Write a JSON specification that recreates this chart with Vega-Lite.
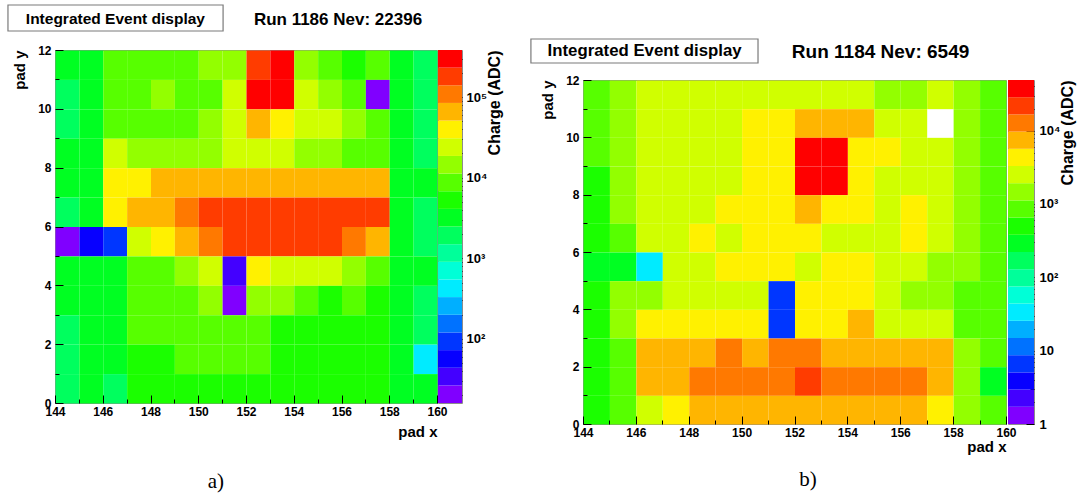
{
"$schema": "https://vega.github.io/schema/vega-lite/v6.json",
"background": "white",
"padding": {"left": 7, "top": 0, "right": 0, "bottom": 0},
"autosize": {"type": "pad"},
"config": {
 "font": "Liberation Sans",
 "view": {"stroke": "#8c8c8c", "strokeWidth": 1},
 "axis": {"labelFont": "Liberation Sans", "labelFontWeight": "bold", "labelFontSize": 12, "labelColor": "#000", "titleFont": "Liberation Sans", "titleFontWeight": "bold", "titleFontSize": 15, "titleColor": "#000", "domain": false, "grid": false, "tickColor": "#000", "tickWidth": 1, "labelOverlap": false, "labelFlush": false}
},
"datasets": {
 "padA": [
{"x":144,"y":11,"q":3189},{"x":145,"y":11,"q":3189},{"x":146,"y":11,"q":8746},{"x":147,"y":11,"q":8746},{"x":148,"y":11,"q":8746},{"x":149,"y":11,"q":8746},{"x":150,"y":11,"q":14484},{"x":151,"y":11,"q":14484},{"x":152,"y":11,"q":180464},{"x":153,"y":11,"q":298876},{"x":154,"y":11,"q":14484},{"x":155,"y":11,"q":8746},{"x":156,"y":11,"q":5281},{"x":157,"y":11,"q":8746},{"x":158,"y":11,"q":3189},{"x":159,"y":11,"q":1926},
{"x":144,"y":10,"q":1926},{"x":145,"y":10,"q":3189},{"x":146,"y":10,"q":8746},{"x":147,"y":10,"q":8746},{"x":148,"y":10,"q":14484},{"x":149,"y":10,"q":8746},{"x":150,"y":10,"q":8746},{"x":151,"y":10,"q":23988},{"x":152,"y":10,"q":298876},{"x":153,"y":10,"q":298876},{"x":154,"y":10,"q":23988},{"x":155,"y":10,"q":14484},{"x":156,"y":10,"q":8746},{"x":157,"y":10,"q":20},{"x":158,"y":10,"q":3189},{"x":159,"y":10,"q":1926},
{"x":144,"y":9,"q":1926},{"x":145,"y":9,"q":3189},{"x":146,"y":9,"q":8746},{"x":147,"y":9,"q":8746},{"x":148,"y":9,"q":8746},{"x":149,"y":9,"q":8746},{"x":150,"y":9,"q":14484},{"x":151,"y":9,"q":23988},{"x":152,"y":9,"q":65795},{"x":153,"y":9,"q":39728},{"x":154,"y":9,"q":23988},{"x":155,"y":9,"q":23988},{"x":156,"y":9,"q":14484},{"x":157,"y":9,"q":8746},{"x":158,"y":9,"q":3189},{"x":159,"y":9,"q":1926},
{"x":144,"y":8,"q":3189},{"x":145,"y":8,"q":3189},{"x":146,"y":8,"q":23988},{"x":147,"y":8,"q":14484},{"x":148,"y":8,"q":14484},{"x":149,"y":8,"q":14484},{"x":150,"y":8,"q":14484},{"x":151,"y":8,"q":23988},{"x":152,"y":8,"q":23988},{"x":153,"y":8,"q":23988},{"x":154,"y":8,"q":14484},{"x":155,"y":8,"q":14484},{"x":156,"y":8,"q":8746},{"x":157,"y":8,"q":8746},{"x":158,"y":8,"q":3189},{"x":159,"y":8,"q":1926},
{"x":144,"y":7,"q":3189},{"x":145,"y":7,"q":3189},{"x":146,"y":7,"q":39728},{"x":147,"y":7,"q":39728},{"x":148,"y":7,"q":65795},{"x":149,"y":7,"q":65795},{"x":150,"y":7,"q":65795},{"x":151,"y":7,"q":65795},{"x":152,"y":7,"q":65795},{"x":153,"y":7,"q":65795},{"x":154,"y":7,"q":65795},{"x":155,"y":7,"q":65795},{"x":156,"y":7,"q":65795},{"x":157,"y":7,"q":65795},{"x":158,"y":7,"q":3189},{"x":159,"y":7,"q":3189},
{"x":144,"y":6,"q":1926},{"x":145,"y":6,"q":3189},{"x":146,"y":6,"q":39728},{"x":147,"y":6,"q":65795},{"x":148,"y":6,"q":65795},{"x":149,"y":6,"q":108966},{"x":150,"y":6,"q":180464},{"x":151,"y":6,"q":180464},{"x":152,"y":6,"q":180464},{"x":153,"y":6,"q":180464},{"x":154,"y":6,"q":180464},{"x":155,"y":6,"q":180464},{"x":156,"y":6,"q":180464},{"x":157,"y":6,"q":180464},{"x":158,"y":6,"q":3189},{"x":159,"y":6,"q":1926},
{"x":144,"y":5,"q":20},{"x":145,"y":5,"q":56},{"x":146,"y":5,"q":93},{"x":147,"y":5,"q":23988},{"x":148,"y":5,"q":39728},{"x":149,"y":5,"q":65795},{"x":150,"y":5,"q":108966},{"x":151,"y":5,"q":180464},{"x":152,"y":5,"q":180464},{"x":153,"y":5,"q":180464},{"x":154,"y":5,"q":180464},{"x":155,"y":5,"q":180464},{"x":156,"y":5,"q":108966},{"x":157,"y":5,"q":65795},{"x":158,"y":5,"q":3189},{"x":159,"y":5,"q":1926},
{"x":144,"y":4,"q":3189},{"x":145,"y":4,"q":3189},{"x":146,"y":4,"q":3189},{"x":147,"y":4,"q":8746},{"x":148,"y":4,"q":8746},{"x":149,"y":4,"q":14484},{"x":150,"y":4,"q":23988},{"x":151,"y":4,"q":34},{"x":152,"y":4,"q":39728},{"x":153,"y":4,"q":23988},{"x":154,"y":4,"q":23988},{"x":155,"y":4,"q":23988},{"x":156,"y":4,"q":14484},{"x":157,"y":4,"q":8746},{"x":158,"y":4,"q":3189},{"x":159,"y":4,"q":3189},
{"x":144,"y":3,"q":3189},{"x":145,"y":3,"q":3189},{"x":146,"y":3,"q":3189},{"x":147,"y":3,"q":8746},{"x":148,"y":3,"q":8746},{"x":149,"y":3,"q":8746},{"x":150,"y":3,"q":14484},{"x":151,"y":3,"q":20},{"x":152,"y":3,"q":14484},{"x":153,"y":3,"q":14484},{"x":154,"y":3,"q":8746},{"x":155,"y":3,"q":5281},{"x":156,"y":3,"q":8746},{"x":157,"y":3,"q":5281},{"x":158,"y":3,"q":3189},{"x":159,"y":3,"q":1926},
{"x":144,"y":2,"q":1926},{"x":145,"y":2,"q":3189},{"x":146,"y":2,"q":3189},{"x":147,"y":2,"q":8746},{"x":148,"y":2,"q":8746},{"x":149,"y":2,"q":8746},{"x":150,"y":2,"q":8746},{"x":151,"y":2,"q":8746},{"x":152,"y":2,"q":8746},{"x":153,"y":2,"q":5281},{"x":154,"y":2,"q":5281},{"x":155,"y":2,"q":5281},{"x":156,"y":2,"q":5281},{"x":157,"y":2,"q":5281},{"x":158,"y":2,"q":3189},{"x":159,"y":2,"q":1926},
{"x":144,"y":1,"q":1926},{"x":145,"y":1,"q":3189},{"x":146,"y":1,"q":3189},{"x":147,"y":1,"q":5281},{"x":148,"y":1,"q":5281},{"x":149,"y":1,"q":8746},{"x":150,"y":1,"q":8746},{"x":151,"y":1,"q":8746},{"x":152,"y":1,"q":8746},{"x":153,"y":1,"q":5281},{"x":154,"y":1,"q":5281},{"x":155,"y":1,"q":5281},{"x":156,"y":1,"q":5281},{"x":157,"y":1,"q":5281},{"x":158,"y":1,"q":3189},{"x":159,"y":1,"q":424},
{"x":144,"y":0,"q":1926},{"x":145,"y":0,"q":3189},{"x":146,"y":0,"q":1926},{"x":147,"y":0,"q":5281},{"x":148,"y":0,"q":5281},{"x":149,"y":0,"q":5281},{"x":150,"y":0,"q":5281},{"x":151,"y":0,"q":5281},{"x":152,"y":0,"q":5281},{"x":153,"y":0,"q":5281},{"x":154,"y":0,"q":5281},{"x":155,"y":0,"q":5281},{"x":156,"y":0,"q":5281},{"x":157,"y":0,"q":5281},{"x":158,"y":0,"q":3189},{"x":159,"y":0,"q":3189}
 ],
 "padB": [
{"x":144,"y":11,"q":854},{"x":145,"y":11,"q":1465},{"x":146,"y":11,"q":2514},{"x":147,"y":11,"q":2514},{"x":148,"y":11,"q":2514},{"x":149,"y":11,"q":2514},{"x":150,"y":11,"q":2514},{"x":151,"y":11,"q":2514},{"x":152,"y":11,"q":2514},{"x":153,"y":11,"q":2514},{"x":154,"y":11,"q":2514},{"x":155,"y":11,"q":1465},{"x":156,"y":11,"q":1465},{"x":157,"y":11,"q":2514},{"x":158,"y":11,"q":1465},{"x":159,"y":11,"q":854},
{"x":144,"y":10,"q":854},{"x":145,"y":10,"q":1465},{"x":146,"y":10,"q":2514},{"x":147,"y":10,"q":2514},{"x":148,"y":10,"q":2514},{"x":149,"y":10,"q":2514},{"x":150,"y":10,"q":4313},{"x":151,"y":10,"q":4313},{"x":152,"y":10,"q":7401},{"x":153,"y":10,"q":7401},{"x":154,"y":10,"q":7401},{"x":155,"y":10,"q":2514},{"x":156,"y":10,"q":2514},{"x":158,"y":10,"q":1465},{"x":159,"y":10,"q":854},
{"x":144,"y":9,"q":854},{"x":145,"y":9,"q":1465},{"x":146,"y":9,"q":2514},{"x":147,"y":9,"q":2514},{"x":148,"y":9,"q":2514},{"x":149,"y":9,"q":2514},{"x":150,"y":9,"q":4313},{"x":151,"y":9,"q":4313},{"x":152,"y":9,"q":37389},{"x":153,"y":9,"q":37389},{"x":154,"y":9,"q":4313},{"x":155,"y":9,"q":4313},{"x":156,"y":9,"q":2514},{"x":157,"y":9,"q":2514},{"x":158,"y":9,"q":1465},{"x":159,"y":9,"q":854},
{"x":144,"y":8,"q":498},{"x":145,"y":8,"q":1465},{"x":146,"y":8,"q":2514},{"x":147,"y":8,"q":2514},{"x":148,"y":8,"q":2514},{"x":149,"y":8,"q":2514},{"x":150,"y":8,"q":4313},{"x":151,"y":8,"q":4313},{"x":152,"y":8,"q":37389},{"x":153,"y":8,"q":37389},{"x":154,"y":8,"q":4313},{"x":155,"y":8,"q":2514},{"x":156,"y":8,"q":2514},{"x":157,"y":8,"q":2514},{"x":158,"y":8,"q":1465},{"x":159,"y":8,"q":854},
{"x":144,"y":7,"q":498},{"x":145,"y":7,"q":1465},{"x":146,"y":7,"q":2514},{"x":147,"y":7,"q":2514},{"x":148,"y":7,"q":2514},{"x":149,"y":7,"q":4313},{"x":150,"y":7,"q":4313},{"x":151,"y":7,"q":4313},{"x":152,"y":7,"q":7401},{"x":153,"y":7,"q":4313},{"x":154,"y":7,"q":4313},{"x":155,"y":7,"q":2514},{"x":156,"y":7,"q":4313},{"x":157,"y":7,"q":2514},{"x":158,"y":7,"q":1465},{"x":159,"y":7,"q":854},
{"x":144,"y":6,"q":498},{"x":145,"y":6,"q":854},{"x":146,"y":6,"q":2514},{"x":147,"y":6,"q":2514},{"x":148,"y":6,"q":4313},{"x":149,"y":6,"q":2514},{"x":150,"y":6,"q":4313},{"x":151,"y":6,"q":4313},{"x":152,"y":6,"q":4313},{"x":153,"y":6,"q":2514},{"x":154,"y":6,"q":2514},{"x":155,"y":6,"q":2514},{"x":156,"y":6,"q":4313},{"x":157,"y":6,"q":2514},{"x":158,"y":6,"q":1465},{"x":159,"y":6,"q":854},
{"x":144,"y":5,"q":290},{"x":145,"y":5,"q":290},{"x":146,"y":5,"q":33.4},{"x":147,"y":5,"q":2514},{"x":148,"y":5,"q":2514},{"x":149,"y":5,"q":4313},{"x":150,"y":5,"q":4313},{"x":151,"y":5,"q":4313},{"x":152,"y":5,"q":2514},{"x":153,"y":5,"q":4313},{"x":154,"y":5,"q":4313},{"x":155,"y":5,"q":2514},{"x":156,"y":5,"q":2514},{"x":157,"y":5,"q":1465},{"x":158,"y":5,"q":1465},{"x":159,"y":5,"q":854},
{"x":144,"y":4,"q":498},{"x":145,"y":4,"q":1465},{"x":146,"y":4,"q":1465},{"x":147,"y":4,"q":2514},{"x":148,"y":4,"q":2514},{"x":149,"y":4,"q":2514},{"x":150,"y":4,"q":2514},{"x":151,"y":4,"q":6.62},{"x":152,"y":4,"q":4313},{"x":153,"y":4,"q":4313},{"x":154,"y":4,"q":4313},{"x":155,"y":4,"q":2514},{"x":156,"y":4,"q":1465},{"x":157,"y":4,"q":1465},{"x":158,"y":4,"q":854},{"x":159,"y":4,"q":854},
{"x":144,"y":3,"q":498},{"x":145,"y":3,"q":1465},{"x":146,"y":3,"q":4313},{"x":147,"y":3,"q":4313},{"x":148,"y":3,"q":4313},{"x":149,"y":3,"q":4313},{"x":150,"y":3,"q":4313},{"x":151,"y":3,"q":6.62},{"x":152,"y":3,"q":4313},{"x":153,"y":3,"q":4313},{"x":154,"y":3,"q":7401},{"x":155,"y":3,"q":2514},{"x":156,"y":3,"q":2514},{"x":157,"y":3,"q":2514},{"x":158,"y":3,"q":854},{"x":159,"y":3,"q":854},
{"x":144,"y":2,"q":498},{"x":145,"y":2,"q":854},{"x":146,"y":2,"q":7401},{"x":147,"y":2,"q":7401},{"x":148,"y":2,"q":7401},{"x":149,"y":2,"q":12699},{"x":150,"y":2,"q":7401},{"x":151,"y":2,"q":12699},{"x":152,"y":2,"q":12699},{"x":153,"y":2,"q":7401},{"x":154,"y":2,"q":7401},{"x":155,"y":2,"q":7401},{"x":156,"y":2,"q":7401},{"x":157,"y":2,"q":7401},{"x":158,"y":2,"q":1465},{"x":159,"y":2,"q":854},
{"x":144,"y":1,"q":498},{"x":145,"y":1,"q":854},{"x":146,"y":1,"q":7401},{"x":147,"y":1,"q":7401},{"x":148,"y":1,"q":12699},{"x":149,"y":1,"q":12699},{"x":150,"y":1,"q":12699},{"x":151,"y":1,"q":12699},{"x":152,"y":1,"q":21789},{"x":153,"y":1,"q":12699},{"x":154,"y":1,"q":12699},{"x":155,"y":1,"q":12699},{"x":156,"y":1,"q":12699},{"x":157,"y":1,"q":7401},{"x":158,"y":1,"q":1465},{"x":159,"y":1,"q":290},
{"x":144,"y":0,"q":498},{"x":145,"y":0,"q":854},{"x":146,"y":0,"q":2514},{"x":147,"y":0,"q":4313},{"x":148,"y":0,"q":7401},{"x":149,"y":0,"q":7401},{"x":150,"y":0,"q":7401},{"x":151,"y":0,"q":7401},{"x":152,"y":0,"q":7401},{"x":153,"y":0,"q":7401},{"x":154,"y":0,"q":7401},{"x":155,"y":0,"q":7401},{"x":156,"y":0,"q":7401},{"x":157,"y":0,"q":4313},{"x":158,"y":0,"q":1465},{"x":159,"y":0,"q":854}
 ],
 "barA": [
{"lo":16,"hi":26.4},{"lo":26.4,"hi":43.8},{"lo":43.8,"hi":72.5},{"lo":72.5,"hi":120},{"lo":120,"hi":199},{"lo":199,"hi":330},{"lo":330,"hi":546},{"lo":546,"hi":904},{"lo":904,"hi":1496},{"lo":1496,"hi":2477},{"lo":2477,"hi":4103},{"lo":4103,"hi":6792},{"lo":6792,"hi":11246},{"lo":11246,"hi":18621},{"lo":18621,"hi":30903},{"lo":30903,"hi":51168},{"lo":51168,"hi":84723},{"lo":84723,"hi":140281},{"lo":140281,"hi":232274},{"lo":232274,"hi":384592}
 ],
 "barB": [
{"lo":1,"hi":1.716},{"lo":1.716,"hi":2.944},{"lo":2.944,"hi":5.052},{"lo":5.052,"hi":8.67},{"lo":8.67,"hi":14.88},{"lo":14.88,"hi":25.53},{"lo":25.53,"hi":43.81},{"lo":43.81,"hi":75.16},{"lo":75.16,"hi":129},{"lo":129,"hi":221.3},{"lo":221.3,"hi":379.7},{"lo":379.7,"hi":651.6},{"lo":651.6,"hi":1118},{"lo":1118,"hi":1919},{"lo":1919,"hi":3293},{"lo":3293,"hi":5649},{"lo":5649,"hi":9694},{"lo":9694,"hi":16634},{"lo":16634,"hi":28541},{"lo":28541,"hi":48978}
 ]
},
"hconcat": [
 {
  "vconcat": [
   {
    "width": 382, "height": 31,
    "view": {"stroke": null},
    "layer": [
     {"data": {"values": [{}]},
      "mark": {"type": "rect", "fill": "white", "stroke": "#7a7a7a", "strokeWidth": 1.2},
      "encoding": {
       "x": {"datum": 142.03, "type": "quantitative", "scale": {"domain": [144, 160], "nice": false, "zero": false}, "axis": null},
       "x2": {"datum": 151.04},
       "y": {"datum": 0.839, "type": "quantitative", "scale": {"domain": [0, 1], "nice": false, "zero": false}, "axis": null},
       "y2": {"datum": 0}}},
     {"data": {"values": [{}]},
      "mark": {"type": "text", "text": "Integrated Event display", "font": "Liberation Sans", "fontSize": 15.5, "fontWeight": "bold", "align": "center", "baseline": "middle", "color": "#000"},
      "encoding": {"x": {"datum": 146.53, "type": "quantitative"}, "y": {"datum": 0.387, "type": "quantitative"}}},
     {"data": {"values": [{}]},
      "mark": {"type": "text", "text": "Run 1186 Nev: 22396", "font": "Liberation Sans", "fontSize": 17, "fontWeight": "bold", "align": "left", "baseline": "middle", "color": "#000"},
      "encoding": {"x": {"datum": 152.33, "type": "quantitative"}, "y": {"datum": 0.339, "type": "quantitative"}}}
    ]
   },
   {
    "hconcat": [
     {
      "width": 382, "height": 353,
      "layer": [
       {
        "data": {"name": "padA"},
        "mark": {"type": "rect"},
        "encoding": {
         "x": {"field": "x", "type": "quantitative", "bin": {"binned": true, "step": 1}, "scale": {"domain": [144, 160], "nice": false, "zero": false},
          "axis": {"title": "pad x", "titleAnchor": "end", "titlePadding": 3, "values": [144,144.5,145,145.5,146,146.5,147,147.5,148,148.5,149,149.5,150,150.5,151,151.5,152,152.5,153,153.5,154,154.5,155,155.5,156,156.5,157,157.5,158,158.5,159,159.5,160], "labelExpr": "datum.value % 2 == 0 ? datum.label : ''", "format": "d", "tickSize": {"condition": {"test": "datum.value % 2 == 0", "value": -8}, "value": -4}, "labelPadding": 11}},
         "y": {"field": "y", "type": "quantitative", "bin": {"binned": true, "step": 1}, "scale": {"domain": [0, 12], "nice": false, "zero": false},
          "axis": {"title": "pad y", "titleAnchor": "end", "titlePadding": 10, "values": [0,0.5,1,1.5,2,2.5,3,3.5,4,4.5,5,5.5,6,6.5,7,7.5,8,8.5,9,9.5,10,10.5,11,11.5,12], "labelExpr": "datum.value % 2 == 0 ? datum.label : ''", "format": "d", "tickSize": {"condition": {"test": "datum.value % 2 == 0", "value": -8}, "value": -4}, "labelPadding": 12}},
         "color": {"field": "q", "type": "quantitative", "scale": {"type": "threshold", "domain": [26.4,43.8,72.5,120,199,330,546,904,1496,2477,4103,6792,11246,18621,30903,51168,84723,140281,232274], "range": ["#8000ff","#4300ff","#0700ff","#0036ff","#0072ff","#00afff","#00ebff","#00ffd7","#00ff9a","#00ff5e","#00ff22","#1bff00","#57ff00","#93ff00","#d0ff00","#fff100","#ffb500","#ff7900","#ff3c00","#ff0000"]}, "legend": null}
        }
       },
       {"data": {"values": [{}]},
        "mark": {"type": "text", "text": "a)", "font": "Liberation Serif", "fontSize": 21, "align": "center", "baseline": "middle", "color": "#000"},
        "encoding": {"x": {"datum": 150.74, "type": "quantitative"}, "y": {"datum": -2.685, "type": "quantitative"}}}
      ]
     },
     {
      "width": 24, "height": 353,
      "data": {"name": "barA"},
      "mark": {"type": "rect"},
      "encoding": {
       "x": {"datum": 0, "type": "quantitative", "scale": {"domain": [0, 1], "nice": false, "zero": false}, "axis": null},
       "x2": {"datum": 1},
       "y": {"field": "lo", "type": "quantitative", "scale": {"type": "log", "domain": [16, 384592], "nice": false, "zero": false},
        "axis": {"orient": "right", "title": "Charge (ADC)", "titleFontSize": 16, "titleAnchor": "end", "titleAngle": 270, "titleAlign": "right", "titleBaseline": "top", "titlePadding": 0, "labelFontSize": 13, "values": [20,30,40,50,60,70,80,90,100,200,300,400,500,600,700,800,900,1000,2000,3000,4000,5000,6000,7000,8000,9000,10000,20000,30000,40000,50000,60000,70000,80000,90000,100000,200000,300000], "labelExpr": "datum.value == 1 ? '1' : datum.value == 10 ? '10' : datum.value == 100 ? '10²' : datum.value == 1000 ? '10³' : datum.value == 10000 ? '10⁴' : datum.value == 100000 ? '10⁵' : ''", "tickSize": {"condition": {"test": "indexof([1,10,100,1000,10000,100000], datum.value) >= 0", "value": -8}, "value": -4}, "labelPadding": 12}},
       "y2": {"field": "hi"},
       "color": {"field": "lo", "type": "quantitative", "scale": {"type": "threshold", "domain": [26.4,43.8,72.5,120,199,330,546,904,1496,2477,4103,6792,11246,18621,30903,51168,84723,140281,232274], "range": ["#8000ff","#4300ff","#0700ff","#0036ff","#0072ff","#00afff","#00ebff","#00ffd7","#00ff9a","#00ff5e","#00ff22","#1bff00","#57ff00","#93ff00","#d0ff00","#fff100","#ffb500","#ff7900","#ff3c00","#ff0000"]}, "legend": null}
      }
     }
    ],
    "spacing": 1,
    "bounds": "flush",
    "resolve": {"scale": {"x": "independent", "y": "independent", "color": "shared"}}
   }
  ],
  "spacing": 11,
  "resolve": {"scale": {"x": "independent", "y": "independent"}}
 },
 {
  "vconcat": [
   {
    "width": 423, "height": 63,
    "view": {"stroke": null},
    "layer": [
     {"data": {"values": [{}]},
      "mark": {"type": "rect", "fill": "white", "stroke": "#7a7a7a", "strokeWidth": 1.2},
      "encoding": {
       "x": {"datum": 142.03, "type": "quantitative", "scale": {"domain": [144, 160], "nice": false, "zero": false}, "axis": null},
       "x2": {"datum": 150.62},
       "y": {"datum": 0.381, "type": "quantitative", "scale": {"domain": [0, 1], "nice": false, "zero": false}, "axis": null},
       "y2": {"datum": 0}}},
     {"data": {"values": [{}]},
      "mark": {"type": "text", "text": "Integrated Event display", "font": "Liberation Sans", "fontSize": 16.8, "fontWeight": "bold", "align": "center", "baseline": "middle", "color": "#000"},
      "encoding": {"x": {"datum": 146.33, "type": "quantitative"}, "y": {"datum": 0.198, "type": "quantitative"}}},
     {"data": {"values": [{}]},
      "mark": {"type": "text", "text": "Run 1184 Nev: 6549", "font": "Liberation Sans", "fontSize": 19, "fontWeight": "bold", "align": "left", "baseline": "middle", "color": "#000"},
      "encoding": {"x": {"datum": 151.9, "type": "quantitative"}, "y": {"datum": 0.175, "type": "quantitative"}}}
    ]
   },
   {
    "hconcat": [
     {
      "width": 423, "height": 344,
      "layer": [
       {
        "data": {"name": "padB"},
        "mark": {"type": "rect"},
        "encoding": {
         "x": {"field": "x", "type": "quantitative", "bin": {"binned": true, "step": 1}, "scale": {"domain": [144, 160], "nice": false, "zero": false},
          "axis": {"title": "pad x", "titleAnchor": "end", "titlePadding": -3, "values": [144,144.5,145,145.5,146,146.5,147,147.5,148,148.5,149,149.5,150,150.5,151,151.5,152,152.5,153,153.5,154,154.5,155,155.5,156,156.5,157,157.5,158,158.5,159,159.5,160], "labelExpr": "datum.value % 2 == 0 ? datum.label : ''", "format": "d", "tickSize": {"condition": {"test": "datum.value % 2 == 0", "value": -8}, "value": -4}, "labelPadding": 11}},
         "y": {"field": "y", "type": "quantitative", "bin": {"binned": true, "step": 1}, "scale": {"domain": [0, 12], "nice": false, "zero": false},
          "axis": {"title": "pad y", "titleAnchor": "end", "titlePadding": 10, "values": [0,0.5,1,1.5,2,2.5,3,3.5,4,4.5,5,5.5,6,6.5,7,7.5,8,8.5,9,9.5,10,10.5,11,11.5,12], "labelExpr": "datum.value % 2 == 0 ? datum.label : ''", "format": "d", "tickSize": {"condition": {"test": "datum.value % 2 == 0", "value": -8}, "value": -4}, "labelPadding": 12}},
         "color": {"field": "q", "type": "quantitative", "scale": {"type": "threshold", "domain": [1.716,2.944,5.052,8.67,14.88,25.53,43.81,75.16,129,221.3,379.7,651.6,1118,1919,3293,5649,9694,16634,28541], "range": ["#8000ff","#4300ff","#0700ff","#0036ff","#0072ff","#00afff","#00ebff","#00ffd7","#00ff9a","#00ff5e","#00ff22","#1bff00","#57ff00","#93ff00","#d0ff00","#fff100","#ffb500","#ff7900","#ff3c00","#ff0000"]}, "legend": null}
        }
       },
       {"data": {"values": [{}]},
        "mark": {"type": "text", "text": "b)", "font": "Liberation Serif", "fontSize": 21, "align": "center", "baseline": "middle", "color": "#000"},
        "encoding": {"x": {"datum": 152.51, "type": "quantitative"}, "y": {"datum": -1.953, "type": "quantitative"}}}
      ]
     },
     {
      "width": 26, "height": 344,
      "data": {"name": "barB"},
      "mark": {"type": "rect"},
      "encoding": {
       "x": {"datum": 0, "type": "quantitative", "scale": {"domain": [0, 1], "nice": false, "zero": false}, "axis": null},
       "x2": {"datum": 1},
       "y": {"field": "lo", "type": "quantitative", "scale": {"type": "log", "domain": [1, 48978], "nice": false, "zero": false},
        "axis": {"orient": "right", "title": "Charge (ADC)", "titleFontSize": 16, "titleAnchor": "end", "titleAngle": 270, "titleAlign": "right", "titleBaseline": "top", "titlePadding": 0, "labelFontSize": 13, "values": [1,2,3,4,5,6,7,8,9,10,20,30,40,50,60,70,80,90,100,200,300,400,500,600,700,800,900,1000,2000,3000,4000,5000,6000,7000,8000,9000,10000,20000,30000,40000], "labelExpr": "datum.value == 1 ? '1' : datum.value == 10 ? '10' : datum.value == 100 ? '10²' : datum.value == 1000 ? '10³' : datum.value == 10000 ? '10⁴' : datum.value == 100000 ? '10⁵' : ''", "tickSize": {"condition": {"test": "indexof([1,10,100,1000,10000,100000], datum.value) >= 0", "value": -8}, "value": -4}, "labelPadding": 13}},
       "y2": {"field": "hi"},
       "color": {"field": "lo", "type": "quantitative", "scale": {"type": "threshold", "domain": [1.716,2.944,5.052,8.67,14.88,25.53,43.81,75.16,129,221.3,379.7,651.6,1118,1919,3293,5649,9694,16634,28541], "range": ["#8000ff","#4300ff","#0700ff","#0036ff","#0072ff","#00afff","#00ebff","#00ffd7","#00ff9a","#00ff5e","#00ff22","#1bff00","#57ff00","#93ff00","#d0ff00","#fff100","#ffb500","#ff7900","#ff3c00","#ff0000"]}, "legend": null}
      }
     }
    ],
    "spacing": 2,
    "bounds": "flush",
    "resolve": {"scale": {"x": "independent", "y": "independent", "color": "shared"}}
   }
  ],
  "spacing": 9,
  "resolve": {"scale": {"x": "independent", "y": "independent"}}
 }
],
"spacing": 26,
"resolve": {"scale": {"x": "independent", "y": "independent", "color": "independent"}}
}
